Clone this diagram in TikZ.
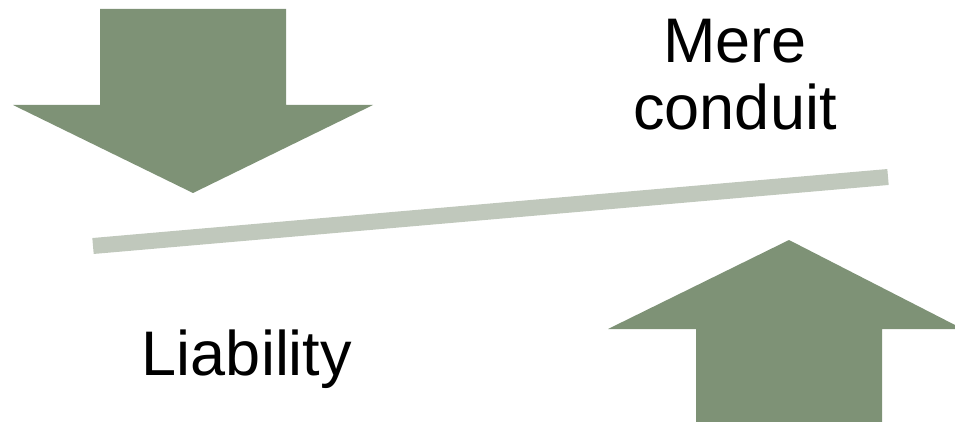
\documentclass[tikz,border=0pt]{standalone}
\usepackage{fontspec}
\setmainfont{Liberation Sans}
\definecolor{arrowgreen}{HTML}{7E9276}
\definecolor{beamgray}{HTML}{C0C8BC}
\begin{document}
\begin{tikzpicture}[x=1pt,y=-1pt,
  bigarrow/.style={fill=arrowgreen,draw=none},
  beam/.style={draw=beamgray,line width=16pt},
  label/.style={font=\fontsize{63}{67}\selectfont,inner sep=0pt,align=center}]
\useasboundingbox (0,0) rectangle (955,422);
% down arrow
\fill[bigarrow] (100,9) -- (286,9) -- (286,105) -- (373,105) -- (193,193) -- (13,105) -- (100,105) -- cycle;
% up arrow
\fill[bigarrow] (696,422) -- (882,422) -- (882,329) -- (955,329) -- (955,325) -- (789,240) -- (608,329) -- (696,329) -- cycle;
% beam
\coordinate (bl) at (93,246);
\coordinate (br) at (888,177);
\draw[beam] (bl) -- (br);
% texts
\node[label,anchor=base] (mere) at (735,130) {Mere\\conduit};
\node[label,anchor=base] (liab) at (247,375) {Liability};
\end{tikzpicture}
\end{document}
